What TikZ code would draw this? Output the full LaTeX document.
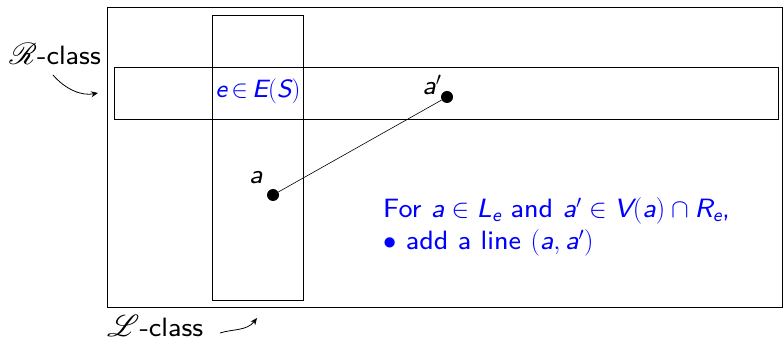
\RequirePackage{fix-cm}
\documentclass[tikz,border=0pt]{standalone}
\usepackage{amsmath}
\usepackage{graphicx}
\usepackage{mathrsfs}
\usepackage{fontspec}
\setsansfont{lmsans8-regular.otf}[ItalicFont=lmsans8-oblique.otf,SlantedFont=lmsans8-oblique.otf]
\usetikzlibrary{arrows.meta}
\newcommand\mv[1]{\text{\slshape #1}}
\newcommand\bigscr[1]{\scalebox{1.22}{$\mathscr{#1}$}}
\begin{document}
\begin{tikzpicture}[x=1pt,y=-1pt,font=\sffamily\fontsize{26.5}{32}\selectfont,
  box/.style={draw,line width=0.8pt},
  dot/.style={circle,fill=black,inner sep=0pt,minimum size=12pt},
  lbl/.style={inner sep=0pt},
  curvearrow/.style={line width=0.8pt,-{Stealth[length=7pt,width=6pt]}}]
\useasboundingbox (0,0) rectangle (784,344);
\node[box,minimum width=675pt,minimum height=300pt,inner sep=0pt] (outer) at (444.5,157) {};
\node[box,minimum width=91pt,minimum height=285pt,inner sep=0pt] (lclass) at (257.5,157.5) {};
\node[box,minimum width=664pt,minimum height=52pt,inner sep=0pt] (rclass) at (446,93) {};
\node[dot] (a) at (273,195) {};
\node[dot] (ap) at (447,97) {};
\draw[line width=0.6pt] (a) -- (ap);
\node[lbl] (la) at (256,178) {$\mv{a}$};
\node[lbl] (lap) at (432,85) {$\mv{a}'$};
\node[lbl,text=blue,font=\sffamily\fontsize{25}{30}\selectfont] (e) at (258,91) {$\mv{e}\mkern-2mu\in\mkern-2mu\mv{E}(\mv{S})$};
\node[lbl,text=blue,anchor=west,align=left] (txt) at (383,227) {For $\mv{a}\in\mv{L}_{\mv{e}}$ and $\mv{a}'\in\mv{V}(\mv{a})\cap\mv{R}_{\mv{e}}$,\\$\bullet$ add a line $(\mv{a},\mv{a}')$};
\node[lbl,anchor=base east] (rlab) at (101,65) {\bigscr{R}-class};
\node[lbl,anchor=base west] (llab) at (107,337) {\bigscr{L}-class};
\coordinate (r1) at (53,75);
\coordinate (r2) at (98,93);
\coordinate (l1) at (220,333);
\coordinate (l2) at (257,318);
\draw[curvearrow] (r1) .. controls (66,90) and (82,96) .. (r2);
\draw[curvearrow] (l1) .. controls (232,329) and (247,331) .. (l2);
\end{tikzpicture}
\end{document}
